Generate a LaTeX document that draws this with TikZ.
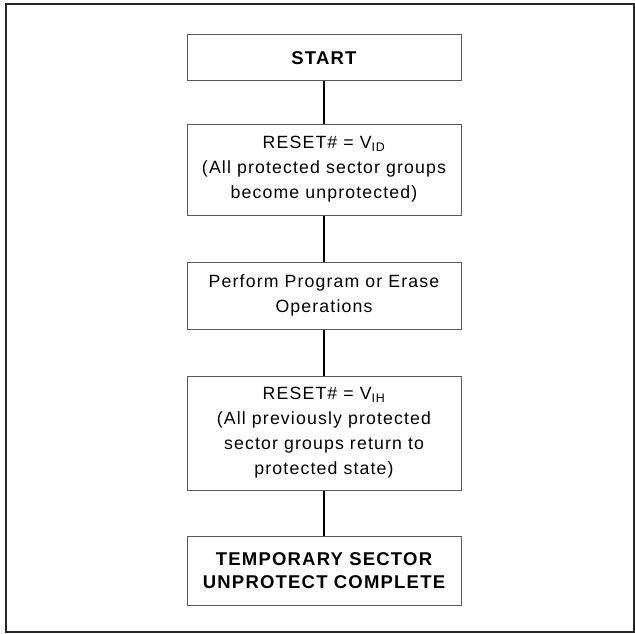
\documentclass[tikz,border=0pt]{standalone}
\usepackage{fontspec}
\setmainfont[LetterSpace=6.5]{Liberation Sans}

\begin{document}
\begin{tikzpicture}[
    x=1pt, y=-1pt,
    box/.style={draw=black!65, line width=1pt, minimum width=274pt, align=center, inner sep=0pt,
        font=\fontsize{17.7}{25}\selectfont},
    bold box/.style={box, font=\fontsize{18.5}{22.5}\selectfont\bfseries},
    link/.style={line width=1.6pt}]

    \useasboundingbox (0,0) rectangle (635,634);
    \draw[line width=1.5pt, draw=black!85] (6,4) rectangle (634,632);

    \node[bold box, minimum height=46pt] (start) at (324,58) {START};
    \node[box, minimum height=91pt] (reset) at (324,169.5)
        {RESET\# = V\textsubscript{ID}\\(All protected sector groups\\become unprotected)};
    \node[box, minimum height=67pt] (perform) at (324,295.5) {Perform Program or Erase\\Operations};
    \node[box, minimum height=114pt] (restore) at (324,433)
        {RESET\# = V\textsubscript{IH}\\(All previously protected\\sector groups return to\\protected state)};
    \node[bold box, minimum height=69pt] (complete) at (324,570.5) {TEMPORARY SECTOR\\UNPROTECT COMPLETE};

    \draw[link] (start) -- (reset);
    \draw[link] (reset) -- (perform);
    \draw[link] (perform) -- (restore);
    \draw[link] (restore) -- (complete);

\end{tikzpicture}
\end{document}
